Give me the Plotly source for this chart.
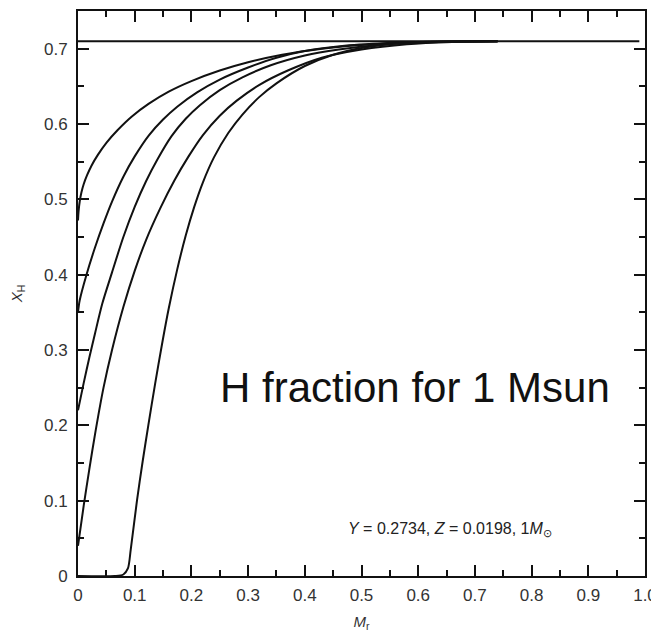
import plotly.graph_objects as go

# Data (X_H profiles vs mass coordinate)
c1_x = [0, 0.001, 0.003, 0.006, 0.01, 0.016, 0.024, 0.035, 0.05, 0.07, 0.095, 0.125, 0.16, 0.2, 0.25, 0.3, 0.36, 0.43, 0.5, 0.6, 0.74]
c1_y = [0.472, 0.484, 0.497, 0.509, 0.52, 0.532, 0.545, 0.559, 0.575, 0.592, 0.61, 0.627, 0.643, 0.657, 0.671, 0.682, 0.692, 0.70, 0.705, 0.709, 0.71]

c2_x = [0, 0.003, 0.015, 0.03, 0.045, 0.06, 0.08, 0.10, 0.125, 0.15, 0.175, 0.21, 0.25, 0.30, 0.35, 0.40, 0.47, 0.56, 0.65, 0.74]
c2_y = [0.35, 0.366, 0.40, 0.436, 0.468, 0.497, 0.53, 0.557, 0.585, 0.606, 0.623, 0.642, 0.659, 0.675, 0.688, 0.697, 0.704, 0.708, 0.7095, 0.71]

c3_x = [0, 0.01, 0.02, 0.03, 0.043, 0.06, 0.08, 0.10, 0.12, 0.14, 0.165, 0.19, 0.215, 0.25, 0.29, 0.34, 0.40, 0.46, 0.53, 0.62, 0.74]
c3_y = [0.22, 0.256, 0.29, 0.322, 0.362, 0.403, 0.450, 0.490, 0.524, 0.553, 0.584, 0.607, 0.625, 0.645, 0.662, 0.678, 0.691, 0.699, 0.705, 0.709, 0.71]

c4_x = [0, 0.01, 0.02, 0.03, 0.045, 0.06, 0.08, 0.10, 0.12, 0.145, 0.17, 0.195, 0.22, 0.25, 0.28, 0.32, 0.37, 0.43, 0.50, 0.58, 0.66, 0.74]
c4_y = [0.04, 0.093, 0.142, 0.188, 0.25, 0.300, 0.357, 0.405, 0.446, 0.488, 0.525, 0.557, 0.585, 0.611, 0.631, 0.652, 0.671, 0.688, 0.699, 0.706, 0.709, 0.71]

c5_x = [0, 0.065, 0.080, 0.088, 0.093, 0.104, 0.114, 0.124, 0.136, 0.148, 0.160, 0.175, 0.190, 0.205, 0.220, 0.240, 0.265,
        0.290, 0.320, 0.350, 0.40, 0.45, 0.50, 0.55, 0.60, 0.67, 0.74]
c5_y = [0, 0, 0.002, 0.01, 0.035, 0.10, 0.152, 0.20, 0.255, 0.307, 0.355, 0.407, 0.452, 0.490, 0.522, 0.556, 0.588,
        0.6125, 0.636, 0.654, 0.677, 0.692, 0.701, 0.706, 0.708, 0.7096, 0.71]

init_x = [0, 0.99]
init_y = [0.71, 0.71]

x_tickvals = [0, 0.1, 0.2, 0.3, 0.4, 0.5, 0.6, 0.7, 0.8, 0.9, 1.0]
x_ticktext = ["0", "0.1", "0.2", "0.3", "0.4", "0.5", "0.6", "0.7", "0.8", "0.9", "1.0"]
y_tickvals = [0, 0.1, 0.2, 0.3, 0.4, 0.5, 0.6, 0.7]
y_ticktext = ["0", "0.1", "0.2", "0.3", "0.4", "0.5", "0.6", "0.7"]

fig = go.Figure()
for xs, ys in [(init_x, init_y), (c1_x, c1_y), (c2_x, c2_y), (c3_x, c3_y), (c4_x, c4_y), (c5_x, c5_y)]:
    fig.add_trace(go.Scatter(x=xs, y=ys, mode="lines",
                             line=dict(color="#111111", width=2, shape="spline", smoothing=0.8),
                             showlegend=False, hoverinfo="skip"))

font_family = "Liberation Sans, Arial, sans-serif"
axis_common = dict(
    showline=True, linecolor="#111111", linewidth=2, mirror="ticks",
    ticks="inside", ticklen=11, tickwidth=1.5, tickcolor="#111111",
    showgrid=False, zeroline=False, automargin=False,
    tickfont=dict(family=font_family, size=17, color="#333333"),
    minor=dict(ticks="inside", ticklen=6, tickwidth=1.5, tickcolor="#111111", dtick=0.05, showgrid=False),
)

# the page body adds an 8px offset; figure size/margins compensate for it
fig.update_layout(
    template="none",
    width=651, height=624,
    margin=dict(l=70, r=14, t=3, b=56),
    paper_bgcolor="white", plot_bgcolor="white",
    xaxis=dict(axis_common, range=[0, 1], tickvals=x_tickvals, ticktext=x_ticktext, ticklabelstandoff=3,
               title=dict(text="<i>M</i><sub>r</sub>", font=dict(family=font_family, size=15, color="#333333"), standoff=12)),
    yaxis=dict(axis_common, range=[0, 0.75], tickvals=y_tickvals, ticktext=y_ticktext, ticklabelstandoff=5,
               title=dict(text="<i>X</i><sub>H</sub>", font=dict(family=font_family, size=15, color="#333333"), standoff=22)),
    font=dict(family=font_family),
    annotations=[
        dict(x=0.247, y=0.25, xref="x", yref="y", text="H fraction for 1 Msun", showarrow=False,
             xanchor="left", yanchor="middle", font=dict(family=font_family, size=42, color="#111111")),
        dict(x=0.656, y=0.062, xref="x", yref="y",
             text="<i>Y</i> = 0.2734, <i>Z</i> = 0.0198, 1<i>M</i><sub>⊙</sub>", showarrow=False,
             xanchor="center", yanchor="middle", font=dict(family=font_family, size=16, color="#222222")),
    ],
)

fig.write_html("out.html")
